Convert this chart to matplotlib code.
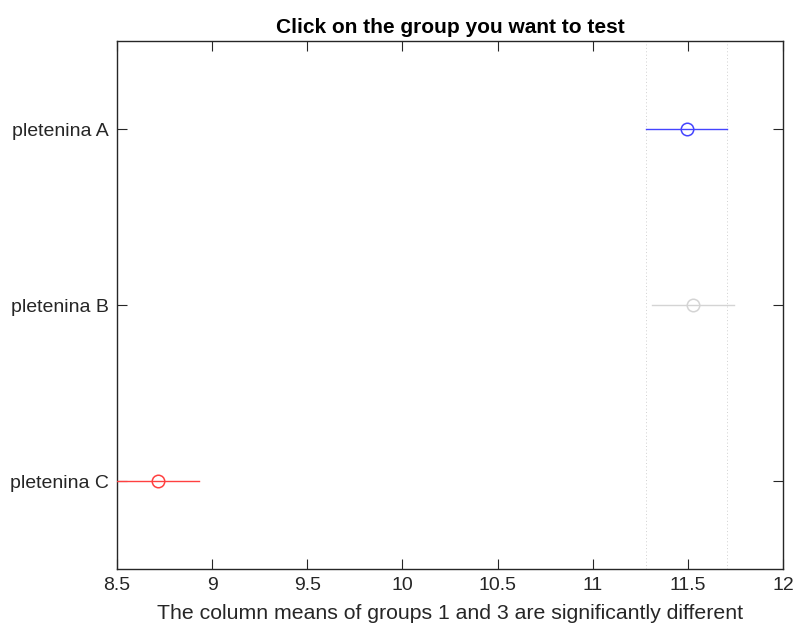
import matplotlib
matplotlib.use('Agg')
import matplotlib.pyplot as plt

plt.rcParams.update({
    'font.family': ['Liberation Sans', 'DejaVu Sans'],
    'xtick.direction': 'in',
    'ytick.direction': 'in',
    'xtick.top': True,
    'ytick.right': True,
    'xtick.color': '#262626',
    'ytick.color': '#262626',
})

grupos = ['pletenina A', 'pletenina B', 'pletenina C']
medias = [11.495, 11.527, 8.715]
meia_larg = [0.213, 0.213, 0.215]
cores = ['#4444ff', '#d4d4d4', '#ff4040']
grupo_sel = 0

fig = plt.figure(figsize=(8, 6.25), dpi=100, facecolor='white')
ax = fig.add_axes([117/800, 1 - 569/625, (783-117)/800, (569-41)/625])

for i, (m, h, c) in enumerate(zip(medias, meia_larg, cores)):
    pos = i + 1
    ax.plot([m - h, m + h], [pos, pos], color=c, lw=1.0, zorder=3)
    ax.plot(m, pos, 'o', mfc='none', mec=c, ms=9, mew=1.1, zorder=4)

# limites do grupo selecionado
lo = medias[grupo_sel] - meia_larg[grupo_sel]
hi = medias[grupo_sel] + meia_larg[grupo_sel]
for v in (lo, hi):
    ax.axvline(v, color='#d0d0d0', lw=0.7, ls=(0, (1, 2.5)), zorder=1)

ax.set_xlim(8.5, 12)
ax.set_ylim(3.5, 0.5)
ax.set_xticks([8.5, 9, 9.5, 10, 10.5, 11, 11.5, 12])
ax.set_xticklabels(['8.5', '9', '9.5', '10', '10.5', '11', '11.5', '12'])
ax.set_yticks([1, 2, 3])
ax.set_yticklabels(grupos)
ax.tick_params(labelsize=14, length=7, width=0.8, pad=6, labelcolor='#262626')
for s in ax.spines.values():
    s.set_color('#262626')
    s.set_linewidth(1.0)

ax.set_title('Click on the group you want to test', fontsize=15,
             fontweight='bold', pad=6)
ax.set_xlabel('The column means of groups 1 and 3 are significantly different',
              fontsize=15.3, color='#262626', labelpad=7)

fig.savefig('out.png', dpi=100, facecolor='white')
